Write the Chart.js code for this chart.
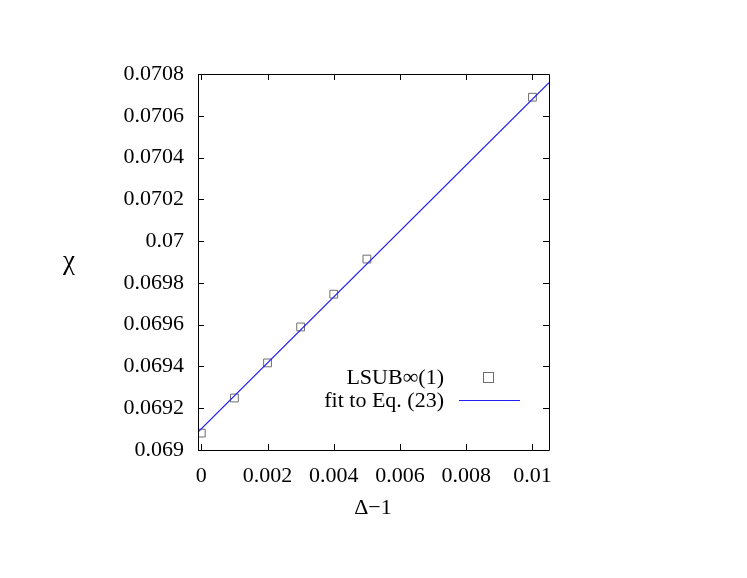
<!DOCTYPE html>
<html><head><meta charset="utf-8">
<script src="https://cdn.jsdelivr.net/npm/chart.js@4/dist/chart.umd.min.js"></script>
<style>html,body{margin:0;padding:0;background:#fff;}#wrap{width:747px;height:578px;}</style>
</head><body><div id="wrap"><canvas id="c" width="747" height="578"></canvas></div>
<script>
const dataX = [0, 0.001, 0.002, 0.003, 0.004, 0.005, 0.01];
const dataY = [0.069081, 0.069249, 0.069417, 0.069589, 0.069746, 0.069914, 0.070689];
const fitX = [-0.0001, 0.0105];
const fitY = [0.069086, 0.070758];
const xTicks = [0, 0.002, 0.004, 0.006, 0.008, 0.01];
const xTickLabels = ["0", "0.002", "0.004", "0.006", "0.008", "0.01"];
const yTicks = [0.069, 0.0692, 0.0694, 0.0696, 0.0698, 0.07, 0.0702, 0.0704, 0.0706, 0.0708];
const yTickLabels = ["0.069", "0.0692", "0.0694", "0.0696", "0.0698", "0.07", "0.0702", "0.0704", "0.0706", "0.0708"];
const seriesNames = ["LSUB\u221e(1)", "fit to Eq. (23)"];
const xTitle = "\u0394\u22121";
const yTitle = "\u03c7";

const FONT = "'Liberation Serif', 'Times New Roman', serif";
const PT_COLOR = '#6e6e6e';
const LINE_COLOR = '#1f1fef';

const framePlugin = {
  id: 'frame',
  afterDraw(chart) {
    const ctx = chart.ctx, a = chart.chartArea;
    const xs = chart.scales.x, ys = chart.scales.y;
    ctx.save();
    ctx.strokeStyle = '#000';
    ctx.lineWidth = 1;
    ctx.beginPath();
    ctx.rect(Math.round(a.left) + 0.5, Math.round(a.top) + 0.5, Math.round(a.right - a.left), Math.round(a.bottom - a.top));
    ctx.stroke();
    const tl = 6;
    ctx.beginPath();
    xTicks.forEach(v => {
      const px = Math.round(xs.getPixelForValue(v)) + 0.5;
      ctx.moveTo(px, a.bottom); ctx.lineTo(px, a.bottom - tl);
      ctx.moveTo(px, a.top); ctx.lineTo(px, a.top + tl);
    });
    yTicks.forEach(v => {
      const py = Math.round(ys.getPixelForValue(v)) + 0.5;
      ctx.moveTo(a.left, py); ctx.lineTo(a.left + tl, py);
      ctx.moveTo(a.right, py); ctx.lineTo(a.right - tl, py);
    });
    ctx.stroke();
    ctx.fillStyle = '#000';
    ctx.font = '27px ' + FONT;
    ctx.textAlign = 'center';
    ctx.textBaseline = 'middle';
    ctx.fillText(yTitle, 69, 262);
    ctx.font = '22px ' + FONT;
    ctx.fillText(xTitle, 373, 508);
    ctx.textAlign = 'right';
    ctx.fillText(seriesNames[0], 444, 378);
    ctx.fillText(seriesNames[1], 444, 401);
    ctx.strokeStyle = PT_COLOR;
    ctx.strokeRect(483.5, 372.5, 10, 10);
    ctx.strokeStyle = LINE_COLOR;
    ctx.beginPath();
    ctx.moveTo(459, 400.5); ctx.lineTo(520, 400.5);
    ctx.stroke();
    ctx.restore();
  }
};

new Chart(document.getElementById('c'), {
  type: 'scatter',
  data: {
    datasets: [
      {
        label: seriesNames[0],
        data: dataX.map((x, i) => ({x, y: dataY[i]})),
        pointStyle: 'rect',
        pointRadius: 5.5,
        pointBorderColor: PT_COLOR,
        pointBackgroundColor: 'rgba(0,0,0,0)',
        pointBorderWidth: 1,
        showLine: false,
        order: 1
      },
      {
        label: seriesNames[1],
        data: fitX.map((x, i) => ({x, y: fitY[i]})),
        showLine: true,
        borderColor: LINE_COLOR,
        borderWidth: 1.2,
        pointRadius: 0,
        fill: false,
        order: 0
      }
    ]
  },
  options: {
    responsive: false,
    animation: false,
    events: [],
    layout: { padding: { left: 0, right: 198, top: 74, bottom: 0 } },
    plugins: { legend: { display: false }, tooltip: { enabled: false } },
    scales: {
      x: {
        type: 'linear', min: -0.0001, max: 0.0105,
        grid: { display: false, drawTicks: false },
        border: { display: false },
        afterBuildTicks: s => { s.ticks = xTicks.map(v => ({value: v})); },
        afterFit: s => { s.height = 128; },
        ticks: {
          padding: 13, color: '#000', font: { family: FONT, size: 22 },
          maxRotation: 0, autoSkip: false,
          callback: (v) => { const i = xTicks.findIndex(t => Math.abs(t - v) < 1e-9); return i >= 0 ? xTickLabels[i] : ''; }
        }
      },
      y: {
        type: 'linear', min: 0.069, max: 0.0708,
        grid: { display: false, drawTicks: false },
        border: { display: false },
        afterBuildTicks: s => { s.ticks = yTicks.map(v => ({value: v})); },
        afterFit: s => { s.width = 198; },
        ticks: {
          padding: 14, color: '#000', font: { family: FONT, size: 22 },
          autoSkip: false,
          callback: (v) => { const i = yTicks.findIndex(t => Math.abs(t - v) < 1e-9); return i >= 0 ? yTickLabels[i] : ''; }
        }
      }
    }
  },
  plugins: [framePlugin]
});
</script>
</body></html>
